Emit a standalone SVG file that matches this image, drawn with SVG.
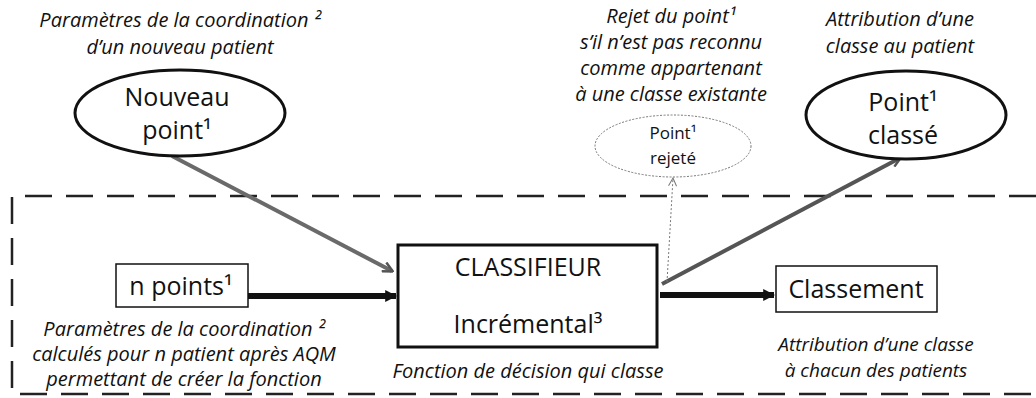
<svg xmlns="http://www.w3.org/2000/svg" width="1036" height="398" viewBox="0 0 1036 398">
<defs>
<style>
.lab{font-family:"Open Sans","Liberation Sans",sans-serif;font-style:italic;font-size:20px;fill:#111;text-anchor:middle}
.lab2{font-family:"Open Sans","Liberation Sans",sans-serif;font-style:italic;font-size:19px;fill:#111;text-anchor:middle}
.node{font-family:"Open Sans","Liberation Sans",sans-serif;font-size:25px;fill:#111;text-anchor:middle}
.small{font-family:"Open Sans","Liberation Sans",sans-serif;font-size:17px;fill:#111;text-anchor:middle}
.ell{fill:#fff;stroke:#111;stroke-width:3}
.box{fill:#fff;stroke:#111;stroke-width:1.5}
.frame{fill:none;stroke:#222;stroke-width:2.5;stroke-dasharray:27 14}
</style>
<marker id="ahGray" viewBox="0 0 12 12" refX="10" refY="6" markerWidth="12" markerHeight="12" markerUnits="userSpaceOnUse" orient="auto">
<path d="M1,1 L11,6 L1,11" fill="none" stroke="#555" stroke-width="2.5"/>
</marker>
<marker id="ahBlack" viewBox="0 0 10 10" refX="9" refY="5" markerWidth="12" markerHeight="14" markerUnits="userSpaceOnUse" orient="auto">
<path d="M0,0 L10,5 L0,10 Z" fill="#111"/>
</marker>
<marker id="ahDot" viewBox="0 0 10 10" refX="9" refY="5" markerWidth="10" markerHeight="10" markerUnits="userSpaceOnUse" orient="auto">
<path d="M1,1 L9,5 L1,9" fill="none" stroke="#777" stroke-width="1"/>
</marker>
</defs>
<rect width="1036" height="398" fill="#fff"/>

<g id="frame">
<path class="frame" d="M1036,196 L12,196 L12,394 L1036,394"/>
</g>

<g id="labels">
<text class="lab" x="180" y="27">Paramètres de la coordination ²</text>
<text class="lab" x="180" y="54">d’un nouveau patient</text>
<text class="lab" x="671" y="23">Rejet du point¹</text>
<text class="lab" x="671" y="49">s’il n’est pas reconnu</text>
<text class="lab" x="671" y="75">comme appartenant</text>
<text class="lab" x="671" y="101">à une classe existante</text>
<text class="lab" x="900" y="26">Attribution d’une</text>
<text class="lab" x="900" y="53">classe au patient</text>
<text class="lab" x="184" y="336">Paramètres de la coordination ²</text>
<text class="lab" x="184" y="361">calculés pour n patient après AQM</text>
<text class="lab" x="184" y="386">permettant de créer la fonction</text>
<text class="lab" x="528" y="378">Fonction de décision qui classe</text>
<text class="lab2" x="876" y="351">Attribution d’une classe</text>
<text class="lab2" x="876" y="377">à chacun des patients</text>
</g>

<g id="connectors">
<line x1="172" y1="156" x2="392" y2="271" stroke="#6a6a6a" stroke-width="4" marker-end="url(#ahGray)"/>
<line x1="248" y1="296" x2="396" y2="296" stroke="#111" stroke-width="6" marker-end="url(#ahBlack)"/>
<line x1="660" y1="295" x2="774" y2="295" stroke="#111" stroke-width="6" marker-end="url(#ahBlack)"/>
<line x1="662" y1="284" x2="900" y2="158" stroke="#555" stroke-width="4" marker-end="url(#ahGray)"/>
<line x1="667" y1="282" x2="673" y2="178" stroke="#777" stroke-width="1" stroke-dasharray="2 2" marker-end="url(#ahDot)"/>
</g>

<g id="nouveau-point">
<ellipse class="ell" cx="180" cy="113" rx="105" ry="43"/>
<text class="node" x="177" y="106">Nouveau</text>
<text class="node" x="177" y="139">point¹</text>
</g>

<g id="point-rejete">
<ellipse cx="673" cy="146" rx="78" ry="31" fill="#fff" stroke="#777" stroke-width="1" stroke-dasharray="2 1.5"/>
<text class="small" x="673" y="139">Point¹</text>
<text class="small" x="673" y="164">rejeté</text>
</g>

<g id="point-classe">
<ellipse class="ell" cx="906" cy="115" rx="100" ry="44"/>
<text class="node" x="903" y="111">Point¹</text>
<text class="node" x="903" y="144">classé</text>
</g>

<g id="n-points">
<rect class="box" x="116" y="264" width="132" height="43"/>
<text class="node" x="181" y="295">n points¹</text>
</g>

<g id="classifieur">
<rect x="398" y="245" width="259" height="102" fill="#fff" stroke="#111" stroke-width="3"/>
<text class="node" x="528" y="276">CLASSIFIEUR</text>
<text class="node" x="528" y="333">Incrémental³</text>
</g>

<g id="classement">
<rect class="box" x="776" y="266" width="161" height="46"/>
<text class="node" x="856" y="298">Classement</text>
</g>
</svg>
